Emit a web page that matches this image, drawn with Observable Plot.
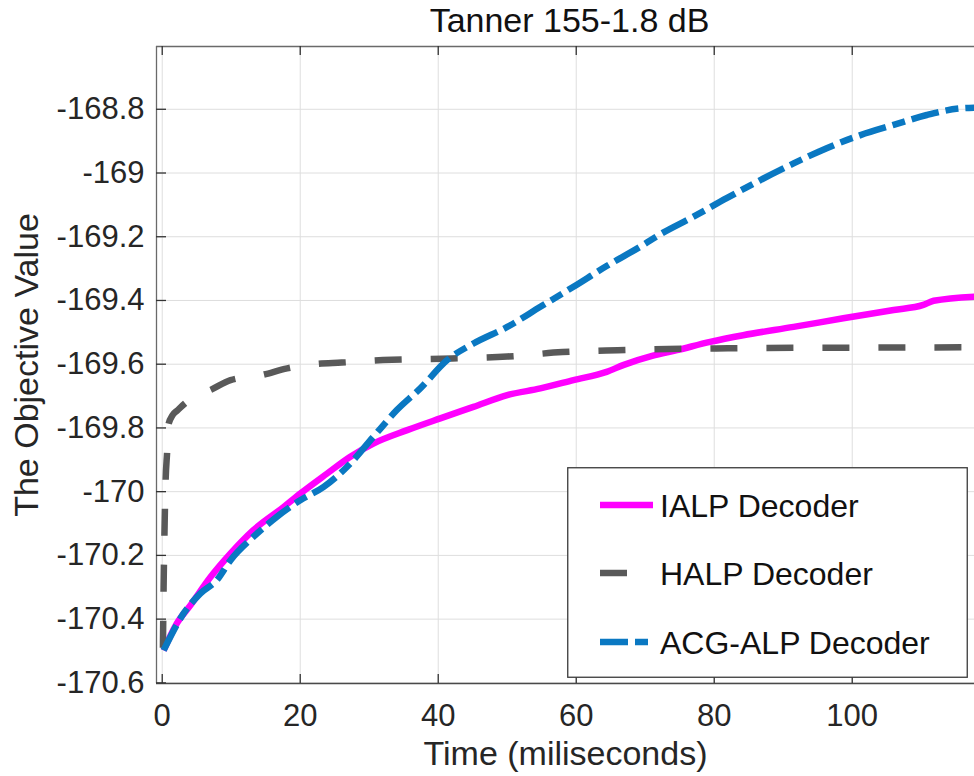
<!DOCTYPE html>
<html>
<head>
<meta charset="utf-8">
<script src="https://cdn.jsdelivr.net/npm/d3@7"></script>
<script src="https://cdn.jsdelivr.net/npm/@observablehq/plot@0.6"></script>
<style>
  html, body { margin: 0; padding: 0; background: #fff; }
  #wrap { position: relative; width: 974px; height: 776px; font-family: 'Liberation Sans', Arial, sans-serif; }
  #legend { position: absolute; left: 567px; top: 467px; }
</style>
</head>
<body>
<div id="wrap"><div id="chart"></div><div id="legend"></div></div>
<script>
// ---- data ----
const title = "Tanner 155-1.8 dB";
const xLabel = "Time (miliseconds)";
const yLabel = "The Objective Value";
const seriesNames = ["IALP Decoder", "HALP Decoder", "ACG-ALP Decoder"];

const xTicks = [0, 20, 40, 60, 80, 100];
const yTicks = [-170.6, -170.4, -170.2, -170, -169.8, -169.6, -169.4, -169.2, -169, -168.8];

const ialpT = [0.2, 2.1, 4.1, 7.0, 9.9, 13.2, 17.6, 20, 23.9, 27.2, 30.6, 35.5, 40.3, 45.1, 50, 54.8, 59.6, 64.4, 66.9, 71, 74.6, 79.4, 84.2, 91.5, 98.7, 106, 110.3, 111.8, 117.7];
const ialpV = [-170.498, -170.414, -170.356, -170.268, -170.194, -170.121, -170.048, -170.006, -169.943, -169.891, -169.849, -169.807, -169.770, -169.734, -169.697, -169.676, -169.650, -169.624, -169.602, -169.574, -169.556, -169.530, -169.509, -169.483, -169.456, -169.430, -169.414, -169.401, -169.388];

const halpT = [0.1, 0.2, 0.35, 0.5, 0.7, 0.9, 1.5, 2.2, 3.3, 5, 7, 9.9, 14.4, 18.1, 22.4, 26, 32, 42, 50, 58, 66, 82, 100, 117.7];
const halpV = [-170.49, -170.3, -170.1, -169.96, -169.88, -169.79, -169.76, -169.745, -169.723, -169.70, -169.681, -169.650, -169.634, -169.613, -169.599, -169.595, -169.587, -169.582, -169.576, -169.562, -169.556, -169.550, -169.548, -169.547];

const acgT = [0.2, 3.1, 5.5, 7.9, 9.9, 13.2, 16.6, 20, 23.4, 26.8, 30.6, 34, 37.4, 41.3, 45.1, 50, 54.8, 59.6, 64.4, 69.3, 72.2, 77, 81.8, 86.7, 91.5, 96.3, 101.2, 106, 110.8, 115.7, 117.7];
const acgV = [-170.498, -170.382, -170.320, -170.278, -170.215, -170.142, -170.079, -170.027, -169.985, -169.922, -169.828, -169.744, -169.676, -169.587, -169.535, -169.483, -169.420, -169.357, -169.292, -169.231, -169.192, -169.137, -169.079, -169.022, -168.970, -168.922, -168.881, -168.849, -168.818, -168.797, -168.795];

// ---- layout / style ----
const W = 974, H = 776, mL = 156, mR = 0, mT = 46, mB = 93;
const frameW = W - mL - mR, frameH = H - mT - mB;
const xDomain = [-0.83, 117.72];
const yDomain = [-170.602, -168.603];
const styles = [
  {stroke: "#ff00ff", dash: null},
  {stroke: "#595959", dash: "27,29"},
  {stroke: "#0a78c2", dash: "28,7,13,7"}
];
const lw = 6.5;
const gridColor = "#dedede", axisColor = "#6a6a6a", tickTextColor = "#262626";

const toRows = (ts, vs) => ts.map((t, i) => ({t, v: vs[i]}));
const series = [toRows(ialpT, ialpV), toRows(halpT, halpV), toRows(acgT, acgV)];

const lineMarks = series.map((rows, i) => Plot.line(rows, {
  x: "t", y: "v", stroke: styles[i].stroke, strokeWidth: lw,
  strokeDasharray: styles[i].dash, strokeLinecap: "butt", strokeLinejoin: "round",
  curve: "monotone-x", clip: true
}));

const chart = Plot.plot({
  width: W, height: H,
  marginLeft: mL, marginRight: mR, marginTop: mT, marginBottom: mB,
  x: {domain: xDomain, axis: null},
  y: {domain: yDomain, axis: null},
  style: {fontFamily: "'Liberation Sans', Arial, sans-serif", background: "white", color: tickTextColor, overflow: "visible"},
  marks: [
    Plot.ruleX(xTicks, {x: d => d, stroke: gridColor, strokeWidth: 1}),
    Plot.ruleY(yTicks, {y: d => d, stroke: gridColor, strokeWidth: 1}),
    ...lineMarks,
    // box (left, top, bottom)
    Plot.ruleX([xDomain[0]], {x: d => d, stroke: axisColor, strokeWidth: 1.3}),
    Plot.ruleY([yDomain[1]], {y: d => d, stroke: axisColor, strokeWidth: 1.3}),
    Plot.ruleY([yDomain[0]], {y: d => d, stroke: "#4a4a4a", strokeWidth: 1.5}),
    // inward ticks
    Plot.ruleX(xTicks, {x: d => d, insetTop: frameH - 9, stroke: "#333", strokeWidth: 1.3}),
    Plot.ruleX(xTicks, {x: d => d, insetBottom: frameH - 9, stroke: "#333", strokeWidth: 1.3}),
    Plot.ruleY(yTicks, {y: d => d, insetRight: frameW - 10, stroke: "#333", strokeWidth: 1.3}),
    // tick labels
    Plot.text(xTicks, {x: d => d, frameAnchor: "bottom", lineAnchor: "middle", dy: 33, text: d => String(d), fontSize: 31, fill: tickTextColor}),
    Plot.text(yTicks, {y: d => d, frameAnchor: "left", lineAnchor: "middle", dx: -12, textAnchor: "end", text: d => String(d), fontSize: 31, fill: tickTextColor}),
    // labels and title
    Plot.text([xLabel], {frameAnchor: "bottom", lineAnchor: "middle", textAnchor: "middle", dy: 71, text: d => d, fontSize: 34, fill: tickTextColor}),
    Plot.text([yLabel], {frameAnchor: "left", lineAnchor: "middle", textAnchor: "middle", dx: -129, rotate: -90, text: d => d, fontSize: 34, fill: tickTextColor}),
    Plot.text([title], {frameAnchor: "top", lineAnchor: "middle", textAnchor: "middle", dy: -25, dx: 4, text: d => d, fontSize: 34, fill: "#111"})
  ]
});
document.getElementById("chart").append(chart);

// ---- legend (overlay inside plot area) ----
const LW = 401, LH = 211;
const leg = d3.select("#legend").append("svg").attr("width", LW).attr("height", LH)
  .style("font-family", "'Liberation Sans', Arial, sans-serif");
leg.append("rect").attr("x", 0.75).attr("y", 0.75).attr("width", LW - 1.5).attr("height", LH - 1.5)
  .attr("fill", "white").attr("stroke", "#3a3a3a").attr("stroke-width", 1.3);
const rowY = [38, 106, 175];
seriesNames.forEach((name, i) => {
  const g = leg.append("g");
  g.append("line").attr("x1", 33).attr("x2", 86).attr("y1", rowY[i]).attr("y2", rowY[i])
    .attr("stroke", styles[i].stroke).attr("stroke-width", lw)
    .attr("stroke-dasharray", styles[i].dash).attr("stroke-linecap", "butt");
  g.append("text").attr("x", 93).attr("y", rowY[i] + 11.5).attr("font-size", 32).attr("fill", "#111").text(name);
});
</script>
</body>
</html>
